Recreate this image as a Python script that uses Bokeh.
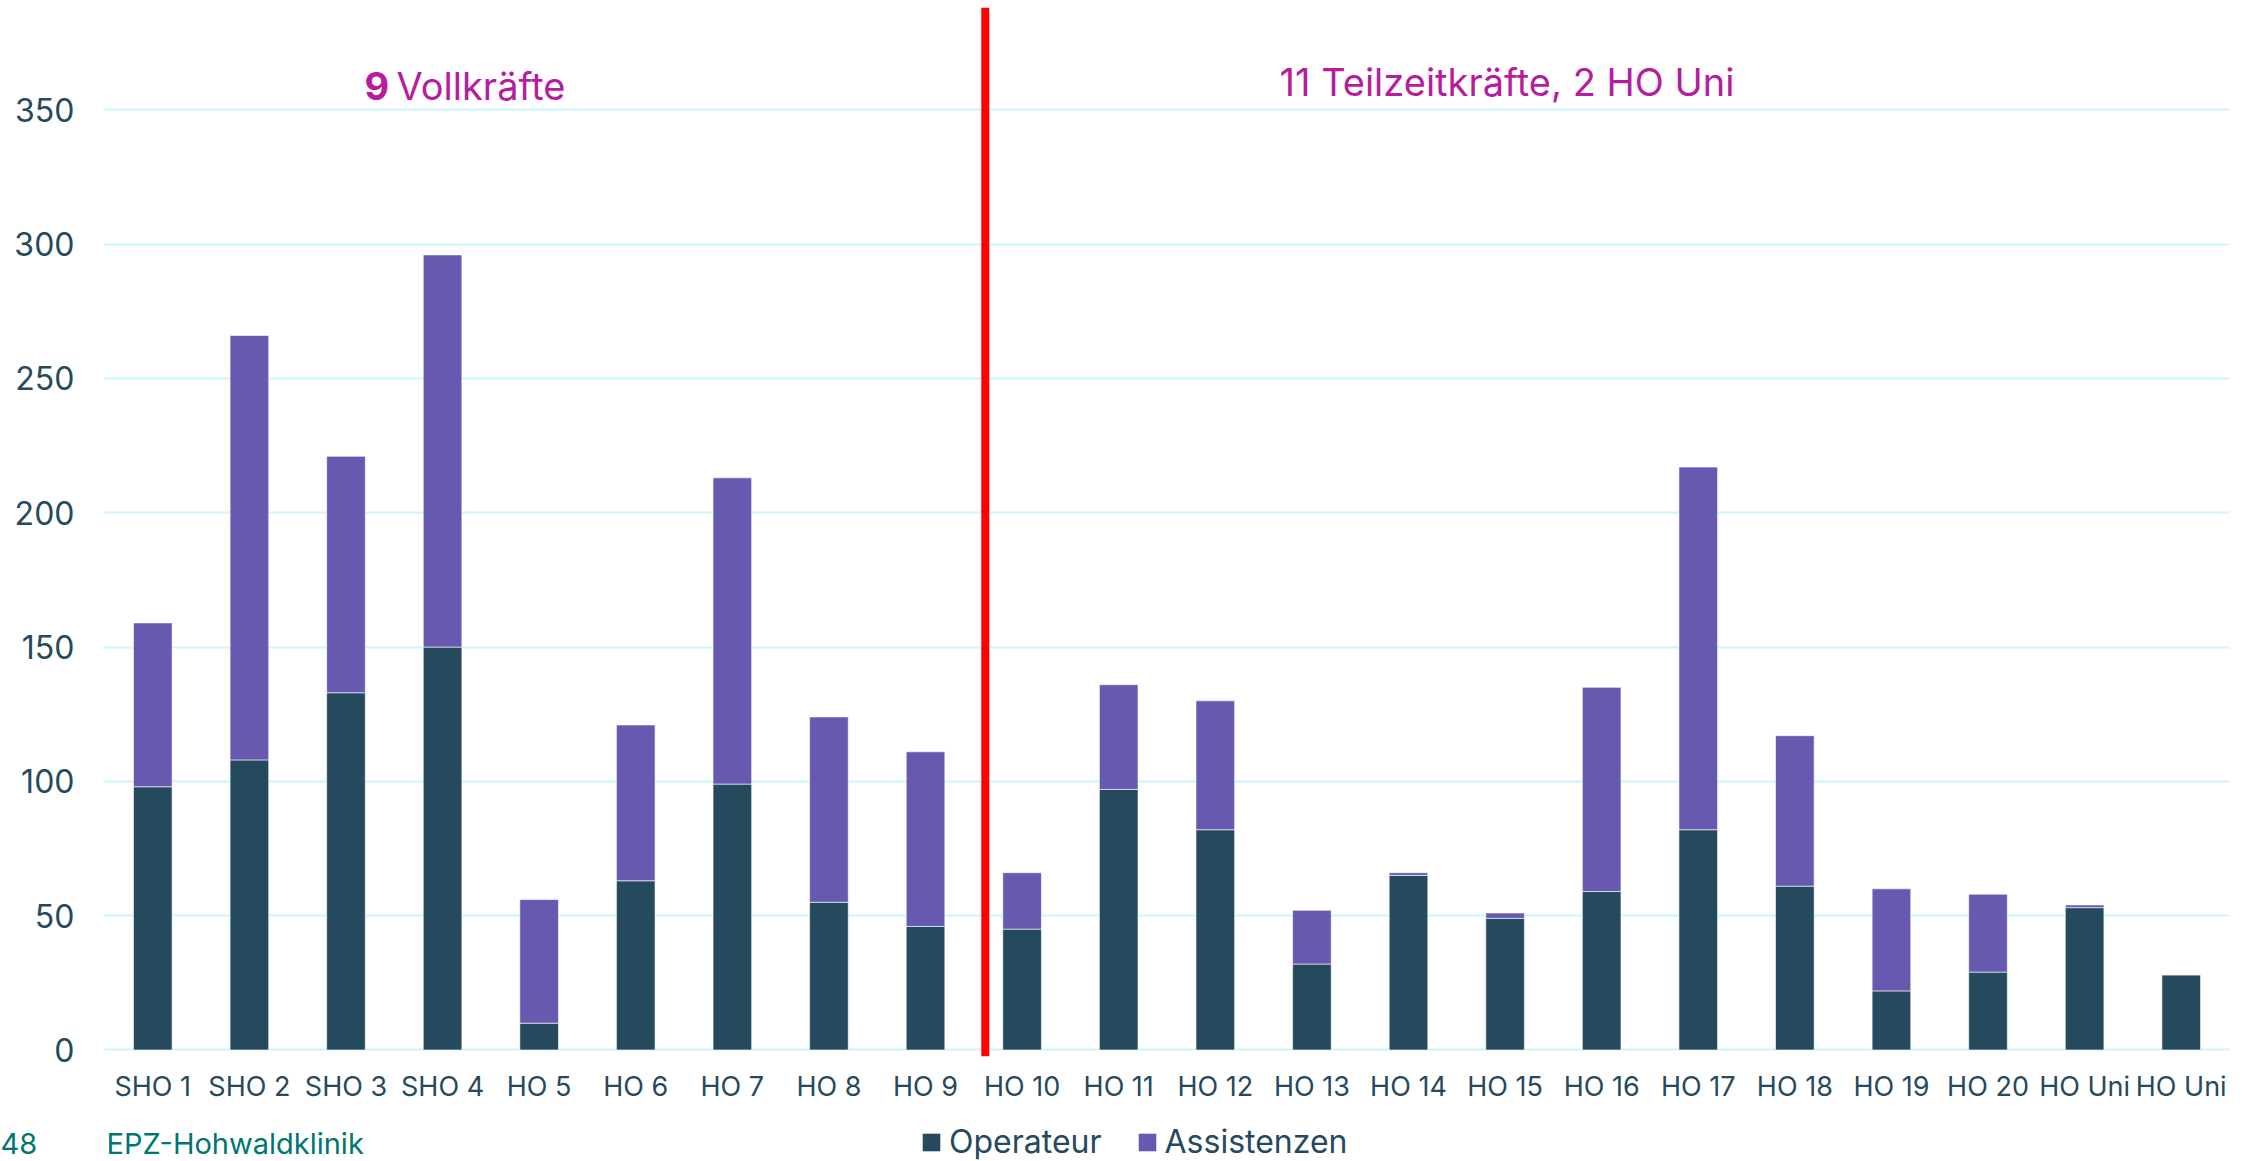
from bokeh.plotting import figure
from bokeh.models import (ColumnDataSource, Range1d, FixedTicker, Span, Label,
                          Legend, LegendItem)
from bokeh.layouts import column
from bokeh.embed import file_html
from bokeh.resources import INLINE

categories = ["SHO 1", "SHO 2", "SHO 3", "SHO 4", "HO 5", "HO 6", "HO 7", "HO 8", "HO 9",
              "HO 10", "HO 11", "HO 12", "HO 13", "HO 14", "HO 15", "HO 16", "HO 17",
              "HO 18", "HO 19", "HO 20", "HO Uni", "HO Uni"]
operateur = [98, 108, 133, 150, 10, 63, 99, 55, 46,
             45, 97, 82, 32, 65, 49, 59, 82, 61, 22, 29, 53, 28]
assistenzen = [61, 158, 88, 146, 46, 58, 114, 69, 65,
               21, 39, 48, 20, 1, 2, 76, 135, 56, 38, 29, 1, 0]
y_ticks = [0, 50, 100, 150, 200, 250, 300, 350]
series_names = ["Operateur", "Assistenzen"]
series_colors = ["#264A5D", "#6759B0"]

FONT = "Inter"
DARK = "#264A5D"
MAGENTA = "#B81C9E"
TEAL = "#007670"

W = 2245
MAIN_H = 1110
FOOT_H = 51

positions = list(range(1, len(categories) + 1))
source = ColumnDataSource(dict(x=positions, Operateur=operateur, Assistenzen=assistenzen))

chart = figure(width=W, height=MAIN_H, output_backend="svg", toolbar_location=None,
               x_range=Range1d(0.5, len(categories) + 0.5), y_range=Range1d(-2.42, 388.1),
               min_border_left=104, min_border_right=16, min_border_top=7, min_border_bottom=54)
chart.outline_line_color = None
chart.frame_align = False

bars = chart.vbar_stack(series_names, x="x", width=0.4, source=source, color=series_colors,
                        line_color="white", line_width=1, line_alpha=0.6)

# axes
chart.xaxis.ticker = FixedTicker(ticks=positions)
chart.xaxis.major_label_overrides = {pos: lab for pos, lab in zip(positions, categories)}
chart.yaxis.ticker = FixedTicker(ticks=y_ticks)
for ax in (chart.xaxis, chart.yaxis):
    ax.axis_line_color = None
    ax.major_tick_line_color = None
    ax.minor_tick_line_color = None
    ax.major_tick_out = 0
    ax.major_label_text_font = FONT
    ax.major_label_text_color = DARK
chart.xaxis.major_label_text_font_size = "27px"
chart.xaxis.major_label_standoff = 13
chart.yaxis.major_label_text_font_size = "32px"
chart.yaxis.major_label_standoff = 30

chart.xgrid.grid_line_color = None
chart.ygrid.ticker = FixedTicker(ticks=y_ticks)
chart.ygrid.grid_line_color = "#C8F7FB"
chart.ygrid.grid_line_width = 2

# separator between full-time and part-time staff
chart.add_layout(Span(location=9.619, dimension="height", line_color="#FF0000", line_width=8))

# group titles
chart.add_layout(Label(x=260, y=970.5, x_units="screen", y_units="screen", text="9",
                       text_font=FONT, text_font_size="38px", text_font_style="bold",
                       text_color=MAGENTA, text_baseline="alphabetic", text_align="left"))
chart.add_layout(Label(x=292, y=970.5, x_units="screen", y_units="screen", text="Vollkräfte",
                       text_font=FONT, text_font_size="38px",
                       text_color=MAGENTA, text_baseline="alphabetic", text_align="left"))
chart.add_layout(Label(x=1402.5, y=975, x_units="screen", y_units="screen",
                       text="11 Teilzeitkräfte, 2 HO Uni",
                       text_font=FONT, text_font_size="38px",
                       text_color=MAGENTA, text_baseline="alphabetic", text_align="center"))

# footer strip with page number, source and legend
footer = figure(width=W, height=FOOT_H, output_backend="svg", toolbar_location=None,
                x_range=Range1d(0, W), y_range=Range1d(0, FOOT_H),
                x_axis_type=None, y_axis_type=None,
                min_border_left=0, min_border_right=0, min_border_top=0, min_border_bottom=0)
footer.frame_align = False
footer.outline_line_color = None
footer.xgrid.grid_line_color = None
footer.ygrid.grid_line_color = None

footer.add_layout(Label(x=0, y=18, text="48", text_font=FONT, text_font_size="29px",
                        text_color=TEAL, text_baseline="middle", text_align="left"))
footer.add_layout(Label(x=106, y=18, text="EPZ-Hohwaldklinik", text_font=FONT,
                        text_font_size="29px", text_color=TEAL,
                        text_baseline="middle", text_align="left"))

# legend keys (zero-height bars, only used for the legend swatches)
legend_renderers = [footer.vbar(x=[0], top=[0], bottom=[0], width=0, color=c, line_width=0)
                    for c in series_colors]
legend = Legend(items=[LegendItem(label=n, renderers=[r])
                       for n, r in zip(series_names, legend_renderers)],
                orientation="horizontal", location=(920, 0), padding=0, margin=0,
                spacing=34, glyph_width=22, glyph_height=22, label_standoff=7,
                label_text_font=FONT, label_text_font_size="32px", label_text_color=DARK,
                border_line_color=None, background_fill_alpha=0)
footer.add_layout(legend)

p = column(chart, footer, spacing=0)

open("out.html", "w").write(file_html(p, INLINE))
